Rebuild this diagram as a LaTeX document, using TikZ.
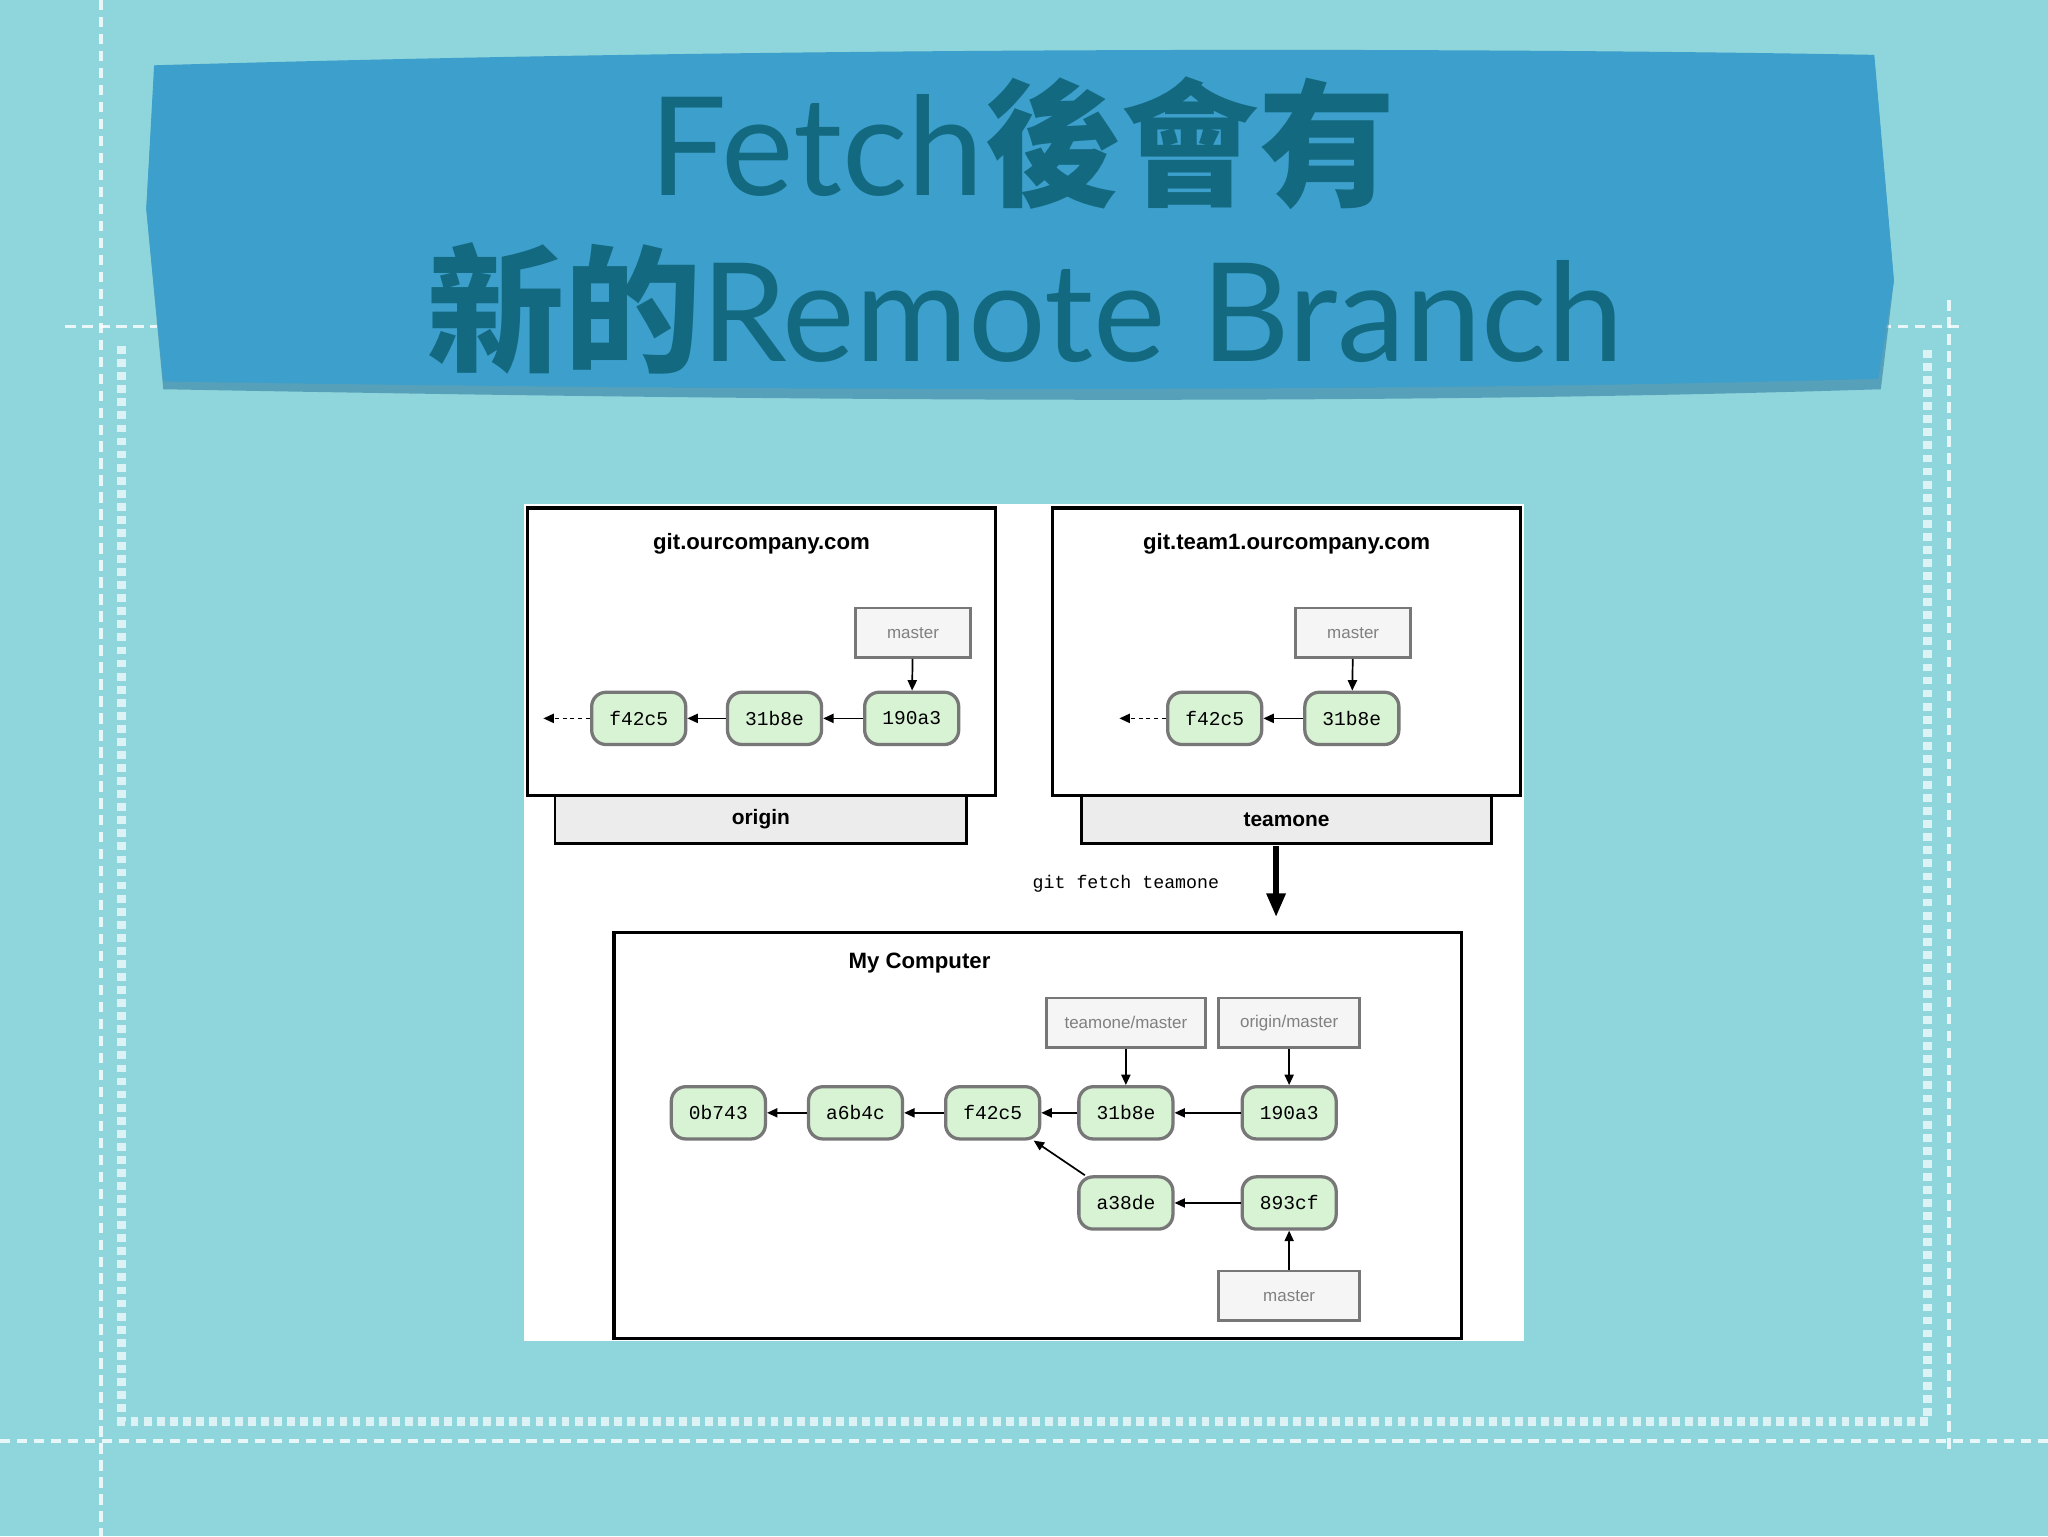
\documentclass[tikz,border=0pt]{standalone}
\usepackage{fontspec}
\setmainfont{Liberation Sans}
\newfontfamily\titlefont{Lato}
\newfontfamily\cjk{Noto Sans CJK TC}
\newfontfamily\monof{Liberation Mono}
\usetikzlibrary{arrows.meta}
\definecolor{bg}{HTML}{8FD5DC}
\definecolor{banner}{HTML}{3C9FCC}
\definecolor{titlec}{HTML}{136A80}
\definecolor{cgreen}{HTML}{D8F2D4}
\definecolor{cedge}{HTML}{777777}
\tikzset{
 commit/.style={draw=cedge,line width=2.5pt,fill=cgreen,rounded corners=11pt,minimum width=72pt,minimum height=40pt,font=\monof\fontsize{15}{15}\selectfont},
 refbox/.style={draw=cedge,line width=2pt,fill=gray!8,minimum height=38pt,font=\fontsize{13}{13}\selectfont,text=gray},
 frame/.style={draw=black,line width=2.5pt,fill=white},
 bar/.style={draw=black,line width=2pt,fill=gray!15,font=\fontsize{16}{16}\selectfont\bfseries},
 hdr/.style={font=\fontsize{17}{17}\selectfont\bfseries},
 arr/.style={-{Triangle[length=8pt,width=7pt]},line width=1.3pt},
 dasharr/.style={arr,dashed},
}
\begin{document}
\begin{tikzpicture}[x=1pt,y=-1pt]
\fill[bg] (0,0) rectangle (1568,1176);
\useasboundingbox (0,0) rectangle (1568,1176);
% decorative borders
\draw[white,line width=3pt,dash pattern=on 8pt off 5pt,opacity=.8] (77,0)--(77,1176);
\draw[white,line width=3pt,dash pattern=on 8pt off 5pt,opacity=.8] (50,250)--(120,250) (1440,250)--(1505,250);
\draw[white,line width=3pt,dash pattern=on 8pt off 5pt,opacity=.8] (0,1103)--(1568,1103);
\draw[white,line width=3pt,dash pattern=on 8pt off 5pt,opacity=.8] (1492,230)--(1492,1110);
\draw[white,line width=7pt,dash pattern=on 6pt off 4pt,opacity=.7] (93,265)--(93,1088)--(1476,1088)--(1476,265);
% banner
\fill[banner!80!black,opacity=.6] (118,60) .. controls (600,44) and (1100,40) .. (1435,46) -- (1450,215) -- (1440,298) .. controls (1000,312) and (500,305) .. (125,298) -- (112,160) -- cycle;
\fill[banner] (118,50) .. controls (600,36) and (1100,36) .. (1435,42) -- (1450,215) -- (1438,290) .. controls (1000,302) and (500,298) .. (125,292) -- (112,160) -- cycle;
\node[text=titlec,font=\titlefont\fontsize{105}{105}\selectfont] (t1) at (783,110) {Fetch{\cjk\bfseries 後會有}};
\node[text=titlec,font=\titlefont\fontsize{105}{105}\selectfont] (t2) at (785,236) {{\cjk\bfseries 新的}Remote Branch};
% panel
\fill[white] (401,386) rectangle (1167,1027);
% box 1
\draw[frame] (404,389) rectangle (762,609);
\node[hdr] (h1) at (583,416) {git.ourcompany.com};
\node[bar,minimum width=315pt,minimum height=37pt] (origin) at (582.5,627.5) {origin};
\node[refbox,minimum width=88pt] (m1) at (699,484.5) {master};
\node[commit] (a3) at (698,550) {190a3};
\node[commit] (a2) at (593,550) {31b8e};
\node[commit] (a1) at (489,550) {f42c5};
\coordinate (a0) at (416,550);
\draw[arr] (m1) -- (a3);
\draw[arr] (a3) -- (a2);
\draw[arr] (a2) -- (a1);
\draw[dasharr] (a1) -- (a0);
% box 2
\draw[frame] (806,389) rectangle (1164,609);
\node[hdr] (h2) at (985,416) {git.team1.ourcompany.com};
\node[bar,minimum width=314pt,minimum height=37pt] (teamone) at (985,627.5) {teamone};
\node[refbox,minimum width=88pt] (m2) at (1036,484.5) {master};
\node[commit] (b2) at (1035,550) {31b8e};
\node[commit] (b1) at (930,550) {f42c5};
\coordinate (b0) at (857,550);
\draw[arr] (m2) -- (b2);
\draw[arr] (b2) -- (b1);
\draw[dasharr] (b1) -- (b0);
% fetch arrow
\coordinate (fa) at (977,648);
\coordinate (fb) at (977,702);
\draw[-{Triangle[length=18pt,width=14pt]},line width=4pt] (fa) -- (fb);
\node[font=\monof\fontsize{14}{14}\selectfont] (fl) at (862,677) {git fetch teamone};
% box 3
\draw[frame] (470,714) rectangle (1119,1025);
\node[hdr] (h3) at (704,737) {My Computer};
\node[refbox,minimum width=122pt] (tm) at (862,783) {teamone/master};
\node[refbox,minimum width=108pt] (om) at (987,783) {origin/master};
\node[commit] (c1) at (550,852) {0b743};
\node[commit] (c2) at (655,852) {a6b4c};
\node[commit] (c3) at (760,852) {f42c5};
\node[commit] (c4) at (862,852) {31b8e};
\node[commit] (c5) at (987,852) {190a3};
\node[commit] (d1) at (862,921) {a38de};
\node[commit] (d2) at (987,921) {893cf};
\node[refbox,minimum width=108pt] (mm) at (987,992) {master};
\draw[arr] (tm) -- (c4);
\draw[arr] (om) -- (c5);
\draw[arr] (c5) -- (c4);
\draw[arr] (c4) -- (c3);
\draw[arr] (c3) -- (c2);
\draw[arr] (c2) -- (c1);
\draw[arr] (d2) -- (d1);
\draw[arr] (d1) -- (c3);
\draw[arr] (mm) -- (d2);
\end{tikzpicture}
\end{document}
